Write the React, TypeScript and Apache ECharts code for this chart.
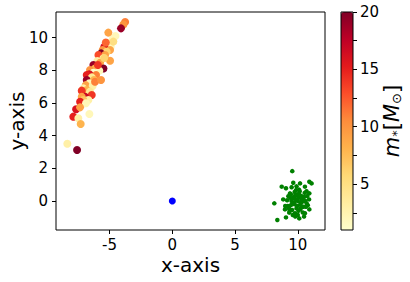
import React, { useEffect, useRef } from "react";
import * as echarts from "echarts";

// colored points: [x, y, mass]
const starX = [-3.76, -3.9, -4.09, -4.53, -4.96, -5.15, -4.91, -5.42, -4.96, -5.55, -5.23, -5.68, -5.36, -5.89, -5.49, -4.96, -5.97, -5.76, -6.29, -5.49, -6.16, -6.56, -5.82, -6.29, -6.61, -6.82, -6.08, -6.42, -6.82, -6.24, -6.61, -6.9, -6.35, -6.16, -7.09, -6.82, -7.22, -6.56, -6.42, -6.96, -7.22, -6.69, -7.09, -7.35, -6.88, -7.67, -7.35, -7.89, -7.49, -6.61, -7.3, -8.37, -7.59, -4.73, -5.1, -5.43, -5.93, -5.68, -4.7, -5.3];
const starY = [10.95, 10.8, 10.56, 10.09, 9.68, 9.6, 9.44, 9.44, 9.24, 9.24, 9.13, 9.03, 8.93, 8.93, 8.73, 8.58, 8.56, 8.46, 8.32, 8.11, 8.11, 8.01, 7.97, 7.85, 7.75, 7.71, 7.71, 7.56, 7.4, 7.4, 7.2, 7.09, 7.03, 7.3, 6.89, 6.79, 6.75, 6.69, 6.48, 6.38, 6.38, 6.18, 6.18, 6.07, 5.98, 5.61, 5.73, 5.16, 5.06, 5.32, 4.71, 3.5, 3.12, 9.91, 10.3, 8.75, 8.32, 7.4, 9.75, 9.7];
const starMass = [11, 10, 19, 2, 3, 3, 2, 16, 9, 10, 6, 20, 9, 13, 2, 9, 3, 9, 19, 20, 8, 10, 2, 1, 16, 15, 11, 4, 19, 8, 2, 9, 3, 11, 3, 8, 14, 4, 14, 17, 9, 3, 7, 15, 2, 16, 9, 15, 3, 2, 8, 3, 20, 2, 9, 6, 14, 10, 5, 12];

// green cluster
const clusterX = [9.56, 9.64, 10.92, 11.1, 10.18, 8.72, 9.06, 9.51, 10.57, 9.86, 10.92, 9.38, 8.84, 8.13, 10.71, 10.92, 8.98, 8.37, 9.06, 10.12, 9.78, 10.57, 9.32, 9.91, 10.05, 9.7, 10.3, 9.95, 10.2, 9.8, 10.4, 9.6, 10.1, 9.9, 10.5, 9.45, 10.25, 9.75, 10.0, 10.35, 9.55, 10.15, 9.85, 10.6, 9.4, 10.45, 9.2, 10.75, 9.65, 10.05, 9.95, 10.3, 9.7, 10.2, 9.5, 10.8, 9.25, 10.0, 10.55, 9.35, 10.1, 9.8, 10.4, 9.6, 10.65, 9.15, 10.9, 9.9, 10.25, 9.45, 10.7, 9.0, 10.5, 9.75, 10.35, 9.3];
const clusterY = [1.83, 1.12, 1.18, 1.08, 1.08, 0.88, 0.78, 0.84, 0.88, 0.67, 0.47, 0.47, 0.1, -0.14, -0.14, -0.51, -0.51, -1.16, -1.0, -1.06, -0.75, -0.75, -0.71, 0.06, 0.2, -0.1, 0.3, -0.3, -0.2, 0.35, 0.05, 0.15, 0.45, -0.45, 0.25, -0.25, -0.4, 0.55, 0.0, -0.05, -0.55, 0.6, 0.1, 0.0, 0.2, -0.35, -0.3, 0.3, -0.15, -0.6, 0.4, 0.1, 0.25, -0.5, 0.0, -0.25, 0.3, -0.85, 0.5, -0.6, 0.7, -0.95, -0.7, -0.85, -0.35, 0.05, 0.1, 0.9, -0.1, 0.4, 0.6, -0.3, -0.95, -0.2, 0.15, -0.45];

const blueX = [0];
const blueY = [0];

const xTicks = [-5, 0, 5, 10];
const yTicks = [0, 2, 4, 6, 8, 10];
const cbTicks = [2.5, 5, 7.5, 10, 12.5, 15, 17.5, 20];
const cbLabels = [5, 10, 15, 20];

const ylorrd = ["#ffffcc", "#ffeda0", "#fed976", "#feb24c", "#fd8d3c", "#fc4e2a", "#e31a1c", "#bd0026", "#800026"];

const FONT = "DejaVu Sans";

export default function App() {
  const ref = useRef<HTMLDivElement>(null);
  useEffect(() => {
    const chart = echarts.init(ref.current!, undefined, { renderer: "svg" });
    const stars = starX.map((x, i) => [x, starY[i], starMass[i]]);
    const cluster = clusterX.map((x, i) => [x, clusterY[i]]);
    const blue = blueX.map((x, i) => [x, blueY[i]]);
    const tickStyle = { color: "#000", fontFamily: FONT, fontSize: 15 };
    chart.setOption({
      animation: false,
      backgroundColor: "#fff",
      grid: [
        { left: 56, top: 12, width: 269, height: 218, show: true, borderColor: "#000", borderWidth: 1, backgroundColor: "transparent", containLabel: false, outerBoundsMode: "none" },
        { left: 341, top: 12, width: 12, height: 218, show: true, borderColor: "#000", borderWidth: 1, backgroundColor: "transparent", z: 10, containLabel: false, outerBoundsMode: "none" },
      ],
      xAxis: [
        {
          gridIndex: 0, type: "value", min: -9.27, max: 12.17,
          splitLine: { show: false }, axisLine: { show: false, onZero: false },
          axisTick: { show: true, inside: false, length: 4, lineStyle: { color: "#000" }, customValues: xTicks },
          axisLabel: { ...tickStyle, margin: 7, customValues: xTicks, formatter: (v: number) => String(v) },
          name: "x-axis", nameLocation: "middle", nameGap: 25, nameMoveOverlap: false,
          nameTextStyle: { color: "#000", fontFamily: FONT, fontSize: 20 },
        },
        { gridIndex: 1, type: "value", min: 0, max: 1, show: false },
      ],
      yAxis: [
        {
          gridIndex: 0, type: "value", min: -1.77, max: 11.56,
          splitLine: { show: false }, axisLine: { show: false, onZero: false },
          axisTick: { show: true, inside: false, length: 4, lineStyle: { color: "#000" }, customValues: yTicks },
          axisLabel: { ...tickStyle, margin: 8, customValues: yTicks },
          name: "y-axis", nameLocation: "middle", nameGap: 29, nameMoveOverlap: false,
          nameTextStyle: { color: "#000", fontFamily: FONT, fontSize: 20 },
        },
        {
          gridIndex: 1, type: "value", min: 1, max: 20, position: "right",
          splitLine: { show: false }, axisLine: { show: false, onZero: false },
          axisTick: { show: true, inside: false, length: 4, lineStyle: { color: "#000" }, customValues: cbTicks },
          axisLabel: { ...tickStyle, margin: 7, customValues: cbLabels },
        },
      ],
      visualMap: {
        type: "continuous", min: 1, max: 20, dimension: 2, seriesIndex: 0,
        inRange: { color: ylorrd },
        left: 341, top: 12, itemWidth: 12, itemHeight: 218, padding: 0,
        calculable: false, realtime: false, hoverLink: false,
        text: null, showLabel: false,
        textStyle: { color: "transparent" },
      },
      graphic: [
        {
          type: "text", x: 392, y: 121, rotation: Math.PI / 2,
          style: {
            text: "{a|m}{s|*}{b|[}{a|M}{s|⊙}{b|]}",
            align: "center", verticalAlign: "middle",
            fill: "#000",
            rich: {
              a: { fontFamily: FONT, fontStyle: "italic", fontSize: 21, fill: "#000" },
              b: { fontFamily: FONT, fontSize: 21, fill: "#000" },
              s: { fontFamily: FONT, fontSize: 13, fill: "#000", verticalAlign: "bottom", padding: [8, 0, 0, 0] },
            },
          },
        },
      ],
      series: [
        { type: "scatter", xAxisIndex: 0, yAxisIndex: 0, data: stars, symbolSize: 8, itemStyle: { opacity: 1 }, emphasis: { disabled: true } },
        { type: "scatter", xAxisIndex: 0, yAxisIndex: 0, data: cluster, symbolSize: 4.5, itemStyle: { color: "#008000", opacity: 1 }, emphasis: { disabled: true } },
        { type: "scatter", xAxisIndex: 0, yAxisIndex: 0, data: blue, symbolSize: 7, itemStyle: { color: "#0000ff", opacity: 1 }, emphasis: { disabled: true } },
      ],
    });
    return () => chart.dispose();
  }, []);
  return <div ref={ref} style={{ width: 410, height: 282, position: "absolute", left: 0, top: 0 }} />;
}
